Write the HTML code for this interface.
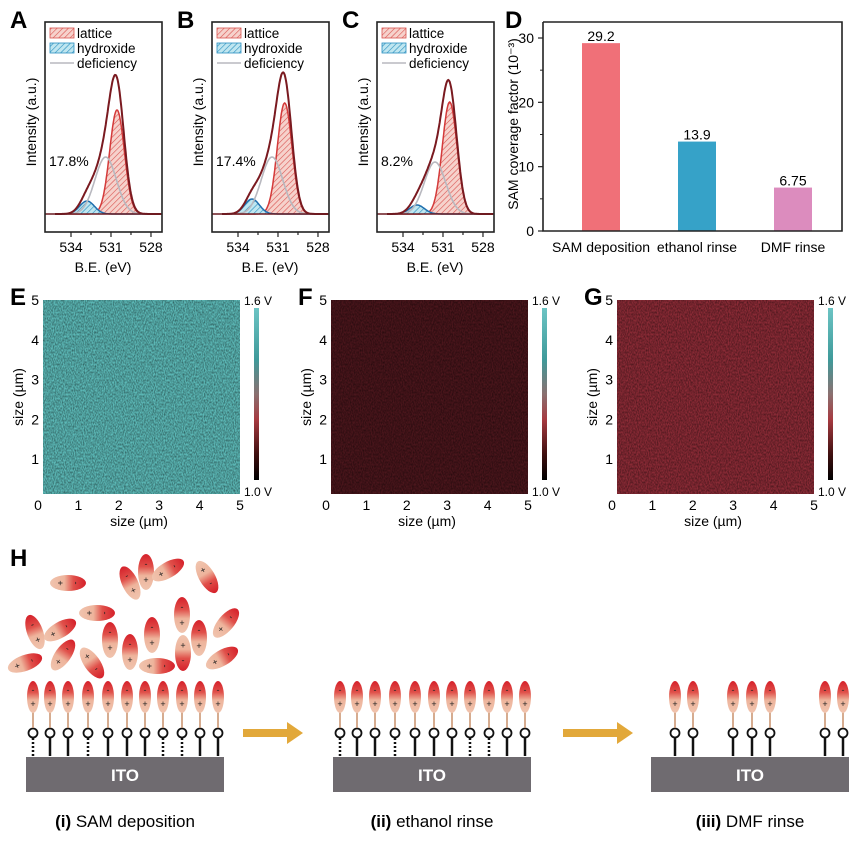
<!DOCTYPE html>
<html><head><meta charset="utf-8"><style>
html,body{margin:0;padding:0;background:#fff}
svg{display:block;font-family:"Liberation Sans",sans-serif}
</style></head><body>
<svg id="fig" width="864" height="847" viewBox="0 0 864 847" xmlns="http://www.w3.org/2000/svg">
<defs>
<pattern id="hatchR" width="4" height="4" patternUnits="userSpaceOnUse" patternTransform="rotate(45)"><rect width="4" height="4" fill="#f6d2cc"/><line x1="0" y1="0" x2="0" y2="4" stroke="#d9534f" stroke-width="1.2"/></pattern>
<pattern id="hatchB" width="4" height="4" patternUnits="userSpaceOnUse" patternTransform="rotate(45)"><rect width="4" height="4" fill="#bfe6f0"/><line x1="0" y1="0" x2="0" y2="4" stroke="#2a8fc0" stroke-width="1.2"/></pattern>
<linearGradient id="mol" x1="0" y1="0" x2="0" y2="1"><stop offset="0" stop-color="#d5202a"/><stop offset="0.35" stop-color="#e0504a"/><stop offset="0.6" stop-color="#eeb49c"/><stop offset="1" stop-color="#f0c4ae"/></linearGradient>
<linearGradient id="cbar" x1="0" y1="0" x2="0" y2="1"><stop offset="0" stop-color="#6cc4c4"/><stop offset="0.3" stop-color="#3f9a9a"/><stop offset="0.5" stop-color="#8a7070"/><stop offset="0.65" stop-color="#a63a40"/><stop offset="0.85" stop-color="#401010"/><stop offset="1" stop-color="#000"/></linearGradient>
<filter id="noise" x="0" y="0" width="100%" height="100%"><feTurbulence type="fractalNoise" baseFrequency="0.9 0.5" numOctaves="2" seed="3" result="t"/><feColorMatrix in="t" type="matrix" values="0 0 0 0 0  0 0 0 0 0  0 0 0 0 0  0 0 0 -1.1 0.75" result="n"/><feComposite in="n" in2="SourceGraphic" operator="in"/></filter>
</defs>
</svg>
<script>
// ---------- XPS data (panels A-C) ----------
const xpsPanels = ["A","B","C"];
const xpsPercent = ["17.8%","17.4%","8.2%"];
const latticeCenter = [530.55, 530.5, 530.5];
const latticeAmp = [104, 111, 112];
const deficiencyCenter = [531.4, 531.45, 531.6];
const deficiencyAmp = [57, 57, 52];
const hydroxideCenter = [532.8, 532.95, 532.95];
const hydroxideAmp = [13, 15, 9];
const xpsTicks = [534, 531, 528];
// ---------- Bar data (panel D) ----------
const barCategories = ["SAM deposition","ethanol rinse","DMF rinse"];
const barValues = [29.2, 13.9, 6.75];
const barLabels = ["29.2","13.9","6.75"];
const barTicks = [0, 10, 20, 30];
// ---------- KPFM maps ----------
const mapPanels = ["E","F","G"];
const mapColors = ["#5cb8b6","#4a161c","#8a2b36"];
const mapTicks = [0,1,2,3,4,5];

const NS="http://www.w3.org/2000/svg";
const svg=document.getElementById('fig');
function el(tag,attrs,parent,text){const e=document.createElementNS(NS,tag);for(const k in attrs)e.setAttribute(k,attrs[k]);if(text!==undefined)e.textContent=text;(parent||svg).appendChild(e);return e;}

const sL=0.55,sD=0.8,sH=0.55;
function g(x,c,a,s){return a*Math.exp(-(x-c)*(x-c)/(2*s*s));}

xpsPanels.forEach((p,i)=>{
  const off=[0,167,332][i];
  const grp=el('g',{transform:`translate(${off},0)`});
  
  
  const L=45,R=162,T=22,B=232,base=214;
  const xs=E=>71+(534-E)*13.33;
  const t=el('text',{x:10,y:28,'font-size':24,'font-weight':'bold'},grp,p);
  
  
  function path(fn,close){let d='';for(let E=535.2;E>=527.0;E-=0.05){const x=xs(E);if(x<L+1||x>R-1)continue;d+=(d?'L':'M')+x.toFixed(1)+' '+(base-fn(E)).toFixed(1);}if(close)d+=`L${(R-1)} ${base}L${L+1} ${base}Z`;return d;}
  const hyd=E=>g(E,hydroxideCenter[i],hydroxideAmp[i],sH);
  const lat=E=>g(E,latticeCenter[i],latticeAmp[i],sL);
  const def=E=>g(E,deficiencyCenter[i],deficiencyAmp[i],sD);
  let e;
  e=el('path',{d:path(lat,true),fill:'url(#hatchR)',stroke:'none'},grp);
  e=el('path',{d:path(lat),fill:'none',stroke:'#d43a3a','stroke-width':1.5},grp);
  e=el('path',{d:path(hyd,true),fill:'url(#hatchB)',stroke:'none'},grp);
  e=el('path',{d:path(hyd),fill:'none',stroke:'#1f6fae','stroke-width':1.5},grp);
  e=el('path',{d:path(def),fill:'none',stroke:'#b8b8bf','stroke-width':1.6},grp);
  e=el('path',{d:path(E=>lat(E)+def(E)+hyd(E)),fill:'none',stroke:'#7a1a20','stroke-width':2},grp);
  el('line',{x1:L,x2:R,y1:base,y2:base,stroke:'#6a1a20','stroke-width':1.5},grp);
  e=el('rect',{x:L,y:T,width:R-L,height:B-T,fill:'none',stroke:'#222','stroke-width':1.6},grp);
  for(let E=534.5;E>=527.5;E-=0.5){const x=xs(E);if(x<L||x>R)continue;const maj=xpsTicks.includes(E);if(!maj&&![532.5,529.5].includes(E))continue;el('line',{x1:x,x2:x,y1:B,y2:B+(maj?5:3),stroke:'#222','stroke-width':1.2},grp);}
  xpsTicks.forEach(v=>{const tt=el('text',{x:xs(v),y:252,'font-size':14,'text-anchor':'middle'},grp,String(v));});
  e=el('text',{x:103,y:272,'font-size':14,'text-anchor':'middle'},grp,'B.E. (eV)');
  e=el('text',{x:0,y:0,'font-size':14,'text-anchor':'middle',transform:'translate(36,122) rotate(-90)'},grp,'Intensity (a.u.)');
  e=el('text',{x:49,y:166,'font-size':14},grp,xpsPercent[i]);
  const lg=el('g',{},grp);
  el('rect',{x:50,y:28,width:24,height:10,fill:'url(#hatchR)',stroke:'#d9534f','stroke-width':0.8},lg);
  el('text',{x:77,y:38,'font-size':13.5},lg,'lattice');
  el('rect',{x:50,y:43,width:24,height:10,fill:'url(#hatchB)',stroke:'#2a8fc0','stroke-width':0.8},lg);
  el('text',{x:77,y:53,'font-size':13.5},lg,'hydroxide');
  el('line',{x1:50,x2:74,y1:63,y2:63,stroke:'#b8b8bf','stroke-width':1.6},lg);
  el('text',{x:77,y:68,'font-size':13.5},lg,'deficiency');
});

// ---------- Panel D ----------
(function(){
  const grp=el('g',{});
  const L=543,R=842,T=22,B=231,y0=231,y30=38;
  const ys=v=>y0-(v/30)*(y0-y30);
  const xc=k=>601+k*96;
  const cols=['#f07078','#36a2c8','#dc8cbe'];
  let e=el('text',{x:505,y:28,'font-size':24,'font-weight':'bold'},grp,'D');
  barValues.forEach((v,k)=>{
    const b=el('rect',{x:xc(k)-19,y:ys(v),width:38,height:y0-ys(v),fill:cols[k]},grp);
    
    
    const t=el('text',{x:xc(k),y:ys(v)-2,'font-size':14,'text-anchor':'middle'},grp,barLabels[k]);
    
    const c=el('text',{x:xc(k),y:252,'font-size':14,'text-anchor':'middle'},grp,barCategories[k]);
    
  });
  e=el('polyline',{points:`${L},${T} ${L},${B} ${R},${B} ${R},${T} ${L},${T}`,fill:'none',stroke:'#222','stroke-width':1.6},grp);
  barTicks.forEach(v=>{el('line',{x1:L-5,x2:L,y1:ys(v),y2:ys(v),stroke:'#222','stroke-width':1.2},grp);const t=el('text',{x:L-9,y:ys(v)+5,'font-size':14,'text-anchor':'end'},grp,String(v));});
  [5,15,25].forEach(v=>el('line',{x1:L-3,x2:L,y1:ys(v),y2:ys(v),stroke:'#222','stroke-width':1},grp));
  e=el('text',{x:0,y:0,'font-size':14,'text-anchor':'middle',transform:'translate(518,124) rotate(-90)'},grp,'SAM coverage factor (10⁻³)');
})();

// ---------- Panels E-G ----------
mapPanels.forEach((p,i)=>{
  const off=[0,288,574][i];
  const grp=el('g',{transform:`translate(${off},0)`});
  
  const x0=38,x5=240,yt=300,yb=494;
  const xs=v=>x0+v*(x5-x0)/5, ysc=v=>499-v*(499-300)/5;
  let e=el('text',{x:10,y:305,'font-size':24,'font-weight':'bold'},grp,p);
  e=el('rect',{x:43,y:yt,width:197,height:yb-yt,fill:mapColors[i]},grp);
  el('rect',{x:43,y:yt,width:197,height:yb-yt,fill:i===0?'#2f8a8a':(i===1?'#1a0508':'#3a0c12'),filter:'url(#noise)',opacity:0.55},grp);
  el('rect',{x:43,y:yt,width:197,height:yb-yt,fill:i===0?'#9fe0dc':(i===1?'#8a3040':'#c04a58'),filter:'url(#noise)',opacity:0.3},grp);
  e=el('rect',{x:254,y:308,width:5,height:172,fill:'url(#cbar)'},grp);
  el('text',{x:244,y:305,'font-size':12},grp,'1.6 V');
  el('text',{x:244,y:496,'font-size':12},grp,'1.0 V');
  mapTicks.forEach(v=>{const t=el('text',{x:xs(v),y:510,'font-size':14,'text-anchor':'middle'},grp,String(v));});
  mapTicks.slice(1).forEach(v=>{const t=el('text',{x:39,y:ysc(v)+5,'font-size':14,'text-anchor':'end'},grp,String(v));});
  e=el('text',{x:139,y:526,'font-size':14,'text-anchor':'middle'},grp,'size (µm)');
  e=el('text',{x:0,y:0,'font-size':14,'text-anchor':'middle',transform:'translate(23,397) rotate(-90)'},grp,'size (µm)');
});

// ---------- Panel H schematic ----------
(function(){
  const grp=el('g',{});
  let e=el('text',{x:10,y:566,'font-size':24,'font-weight':'bold'},grp,'H');
  function molecule(cx,cy,rx,ry,rot,parent){
    const m=el('g',{transform:`translate(${cx},${cy}) rotate(${rot})`},parent);
    el('ellipse',{cx:0,cy:0,rx:rx,ry:ry,fill:'url(#mol)'},m);
    el('text',{x:0,y:-ry*0.45+3,'font-size':9,'text-anchor':'middle',fill:'#222'},m,'-');
    el('text',{x:0,y:ry*0.45+3,'font-size':9,'text-anchor':'middle',fill:'#222'},m,'+');
    return m;
  }
  const free=[[68,583,90],[130,583,-25],[146,572,0],[168,570,60],[207,577,150],[97,613,90],[35,632,-20],[60,630,60],[25,663,70],[63,655,35],[92,663,145],[110,640,0],[130,652,0],[152,635,0],[157,666,90],[182,615,0],[183,653,180],[199,638,0],[226,623,40],[222,658,60]];
  free.forEach(f=>{const m=molecule(f[0],f[1],8,18,f[2],grp);});
  const rel=[7,24,42,62,82,101,119,137,156,174,192];
  function substrate(x0,idx,dotted,caption,bold){
    const s=el('g',{},grp);
    idx.forEach(k=>{const x=x0+rel[k];
      if(dotted.includes(k)) el('line',{x1:x,x2:x,y1:738,y2:756,stroke:'#111','stroke-width':2.5,'stroke-dasharray':'2 2'},s);
      else el('line',{x1:x,x2:x,y1:738,y2:756,stroke:'#111','stroke-width':2.5},s);
      el('circle',{cx:x,cy:733,r:4.5,fill:'#fff',stroke:'#111','stroke-width':1.8},s);
      el('line',{x1:x,x2:x,y1:712,y2:728,stroke:'#c8906a','stroke-width':1.5},s);
      const m=molecule(x,697,6,16,0,s);
    });
    const r=el('rect',{x:x0,y:757,width:198,height:35,fill:'#6f6b70'},s);
    el('text',{x:x0+99,y:781,'font-size':17,'font-weight':'bold','text-anchor':'middle',fill:'#fff'},s,'ITO');
    const c=el('text',{x:x0+99,y:827,'font-size':17,'text-anchor':'middle'},s);
    
    el('tspan',{'font-weight':'bold'},c,bold);el('tspan',{},c,'  '+caption);
  }
  const all=[0,1,2,3,4,5,6,7,8,9,10];
  substrate(26,all,[0,3,7,8],'SAM deposition','(i)');
  substrate(333,all,[0,3,7,8],'ethanol rinse','(ii)');
  substrate(651,[1,2,4,5,6,9,10],[],'DMF rinse','(iii)');
  [[243,303],[563,633]].forEach(a=>{const ar=el('path',{d:`M${a[0]} 729 L${a[1]-16} 729 L${a[1]-16} 722 L${a[1]} 733 L${a[1]-16} 744 L${a[1]-16} 737 L${a[0]} 737 Z`,fill:'#e2a83a'},grp);});
})();
</script>
</body></html>
